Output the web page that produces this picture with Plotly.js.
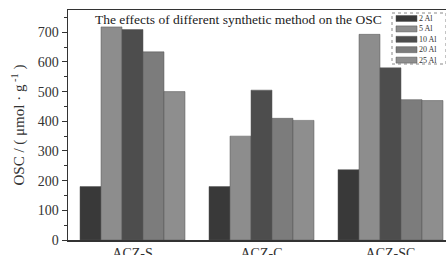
<!DOCTYPE html>
<html><head><meta charset="utf-8">
<script src="https://cdn.plot.ly/plotly-3.0.1.min.js"></script>
<style>html,body{margin:0;padding:0;overflow:hidden;background:#fff;width:446px;height:255px}</style>
</head><body>
<div id="chart"></div>
<script>
const categories = ["ACZ-S", "ACZ-C", "ACZ-SC"];
const seriesNames = ["2 Al", "5 Al", "10 Al", "20 Al", "25 Al"];
const al2 = [180, 180, 237];
const al5 = [718, 350, 693];
const al10 = [709, 505, 580];
const al20 = [634, 410, 473];
const al25 = [500, 403, 470];
const yTicks = [0, 100, 200, 300, 400, 500, 600, 700];

const values = [al2, al5, al10, al20, al25];
const colors = ["#393939", "#8d8d8d", "#4d4d4d", "#7c7c7c", "#8e8e8e"];
const traces = values.map((v, i) => ({
  type: "bar", x: categories, y: v, name: seriesNames[i], showlegend: false,
  marker: {color: colors[i], line: {width: 0.5, color: "#555"}}
}));
const serif = "Liberation Serif, Times New Roman, serif";

// custom compact legend (pixel layout converted to paper coords)
const L = 68, W = 387, T = 10, H = 230;
const px = x => (x - L) / W;
const py = y => (T + H - y) / H;
const shapes = [{type: "rect", xref: "paper", yref: "paper", x0: px(392), x1: px(446), y0: py(64), y1: py(13),
  line: {color: "#888", width: 1, dash: "dot"}, fillcolor: "#fff", layer: "above"}];
const annotations = [{xref: "paper", yref: "paper", x: px(93), y: py(10), xanchor: "left", yanchor: "top",
  text: "The effects of different synthetic method on the OSC", showarrow: false,
  font: {family: serif, size: 13.5, color: "#222"}}];
const rowY = [18.5, 28.9, 39.3, 49.7, 60.1];
seriesNames.forEach((n, i) => {
  shapes.push({type: "rect", xref: "paper", yref: "paper", x0: px(396), x1: px(417), y0: py(rowY[i] + 3), y1: py(rowY[i] - 3),
    fillcolor: colors[i], line: {color: "#555", width: 0.5}, layer: "above"});
});
annotations.push({xref: "paper", yref: "paper", x: px(418), y: py(rowY[2]), xanchor: "left", yanchor: "middle",
  align: "left", borderpad: 0, text: seriesNames.join("<br>"), showarrow: false,
  font: {family: serif, size: 8, color: "#333"}});

const layout = {
  width: 455, height: 255,
  margin: {l: 68, r: 0, t: 10, b: 15},
  paper_bgcolor: "#fff", plot_bgcolor: "#fff",
  barmode: "group", bargap: 0.186, bargroupgap: 0,
  font: {family: serif, color: "#333"},
  showlegend: false,
  xaxis: {type: "category", range: [-0.5, 2.5], showline: true, linecolor: "#333", linewidth: 1.5,
    mirror: true, ticks: "", tickfont: {family: serif, size: 14, color: "#333"}, fixedrange: true},
  yaxis: {range: [0, 775], tickvals: yTicks, ticks: "outside", ticklen: 5, tickcolor: "#333",
    minor: {dtick: 50, ticks: "outside", ticklen: 3, tickcolor: "#333"},
    showline: true, linecolor: "#333", linewidth: 1.5, mirror: true, showgrid: false, zeroline: false,
    tickfont: {family: serif, size: 14, color: "#333"},
    title: {text: "OSC / ( μmol · g<sup> -1</sup> )", font: {family: serif, size: 15, color: "#333"}, standoff: 9}},
  shapes: shapes,
  annotations: annotations
};
Plotly.newPlot("chart", traces, layout, {displayModeBar: false, staticPlot: true});
</script>
</body></html>
